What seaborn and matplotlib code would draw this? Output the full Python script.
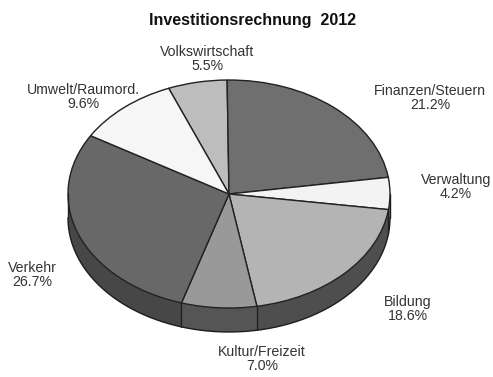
import numpy as np
import matplotlib
matplotlib.use("Agg")
import matplotlib.pyplot as plt
import seaborn as sns

# Investment budget 2012 by area (percent)
categories = ["Volkswirtschaft", "Finanzen/Steuern", "Verwaltung", "Bildung",
              "Kultur/Freizeit", "Verkehr", "Umwelt/Raumord."]
shares = [5.5, 21.2, 4.2, 18.6, 7.0, 26.7, 9.6]
share_labels = ["5.5%", "21.2%", "4.2%", "18.6%", "7.0%", "26.7%", "9.6%"]

top_colors = ["#bdbdbd", "#6f6f6f", "#f3f3f3", "#b4b4b4", "#999999", "#686868", "#f6f6f6"]
side_colors = ["#5a5a5a", "#3e3e3e", "#6a6a6a", "#4e4e4e", "#555555", "#474747", "#6a6a6a"]

# label anchor positions (pixel coordinates of the figure)
label_pos = [(207, 59), (430, 98), (456, 187), (408, 309), (262, 359), (32, 275), (83, 97)]

sns.set_theme(style="white")
plt.rcParams["font.family"] = ["Liberation Sans", "DejaVu Sans"]

W, H = 493, 377
fig = plt.figure(figsize=(W / 100, H / 100), dpi=100)
ax = fig.add_axes([0, 0, 1, 1])

# ellipse geometry of the tilted pie, in pixels
cx, cy, a, b, depth_px = 229, 194, 161, 114, 24
depth = depth_px / b
start = 112

# extruded side: stack of offset pies
for off in np.linspace(depth, 0, 40):
    ax.pie(shares, colors=side_colors, startangle=start, counterclock=False,
           center=(0, -off), radius=1, wedgeprops=dict(linewidth=0))

# top face
wedges, _ = ax.pie(shares, colors=top_colors, startangle=start, counterclock=False,
                   center=(0, 0), radius=1,
                   wedgeprops=dict(edgecolor="#222222", linewidth=1.0))

# outline of the side
t = np.linspace(np.pi, 2 * np.pi, 200)
ax.plot(np.cos(t), np.sin(t) - depth, color="#1e1e1e", lw=1.0)
for x in (-1, 1):
    ax.plot([x, x], [0, -depth], color="#1e1e1e", lw=1.0)
for w in wedges:
    ang = np.deg2rad(w.theta1)
    if np.sin(ang) < 0:
        ax.plot([np.cos(ang)] * 2, [np.sin(ang), np.sin(ang) - depth],
                color="#1e1e1e", lw=0.9)

ax.set_aspect("auto")
ax.set_xlim(-cx / a, (W - cx) / a)
ax.set_ylim((cy - H) / b, cy / b)
ax.axis("off")

for name, lab, (px, py) in zip(categories, share_labels, label_pos):
    fig.text(px / W, 1 - py / H, f"{name}\n{lab}", ha="center", va="center",
             fontsize=10.2, color="#333333", linespacing=1.05)

fig.text(253 / W, 1 - 20 / H, "Investitionsrechnung  2012", ha="center", va="center",
         fontsize=11.5, fontweight="bold", color="#111111")

fig.savefig("out.png", dpi=100, facecolor="white")
